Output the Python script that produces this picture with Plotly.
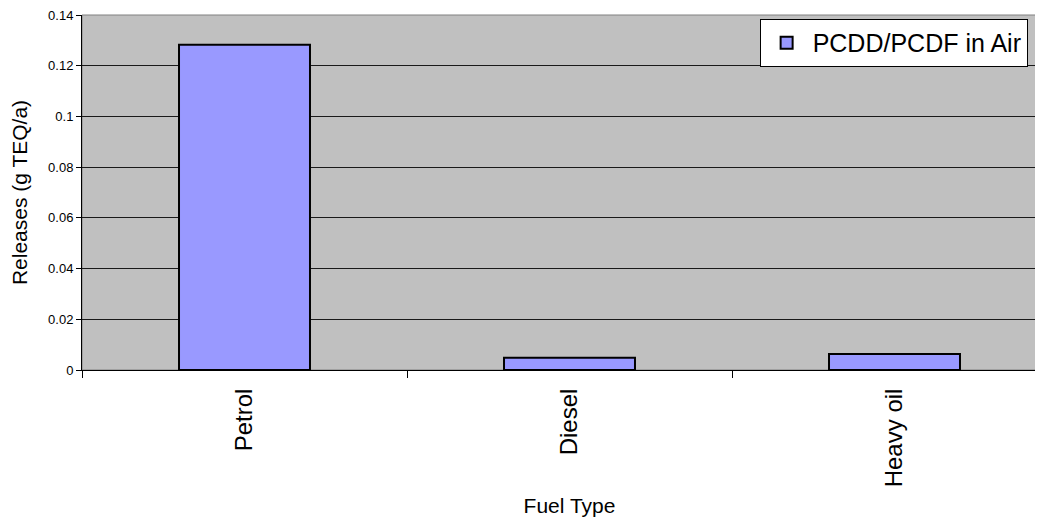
import plotly.graph_objects as go

# data
fuel_types = ["Petrol", "Diesel", "Heavy oil"]
releases_air = [0.1283, 0.0048, 0.0063]
series_name = "PCDD/PCDF in Air"

y_ticks = [0, 0.02, 0.04, 0.06, 0.08, 0.1, 0.12, 0.14]
y_tick_text = ["0", "0.02", "0.04", "0.06", "0.08", "0.1", "0.12", "0.14"]

FONT = "Liberation Sans, Arial, sans-serif"

fig = go.Figure(go.Bar(
    x=fuel_types,
    y=releases_air,
    name=series_name,
    marker=dict(color="#9999FF", line=dict(color="#000000", width=2)),
    showlegend=True,
))

fig.update_xaxes(
    type="category",
    automargin=False,
    tickson="boundaries",
    ticks="outside", ticklen=7, tickcolor="#000000", tickwidth=1,
    tickangle=-90,
    ticklabelstandoff=8,
    tickfont=dict(family=FONT, size=24, color="#000000"),
    showline=True, linecolor="#000000", linewidth=1,
    showgrid=False,
    title=dict(text="Fuel Type", font=dict(family=FONT, size=21, color="#000000"), standoff=15),
)
fig.update_yaxes(
    range=[0, 0.14001],
    automargin=False,
    tickvals=y_ticks, ticktext=y_tick_text,
    ticklabeloverflow="allow",
    ticks="outside", ticklen=5, tickcolor="#000000", tickwidth=1,
    tickfont=dict(family=FONT, size=13, color="#000000"),
    showline=True, linecolor="#000000", linewidth=1,
    showgrid=True, gridcolor="#1a1a1a", gridwidth=1,
    zeroline=False,
    title=dict(text="Releases (g TEQ/a)", font=dict(family=FONT, size=21, color="#000000"), standoff=14),
)

# gray frame on top/right of plot area
fig.add_shape(type="rect", xref="paper", yref="paper", x0=0, x1=1, y0=0, y1=1,
              line=dict(color="#808080", width=1), layer="below")

# page body adds an 8px offset, so margins are shifted to compensate;
# the plot area runs past the right edge of the window, as in the reference
fig.update_layout(
    width=1060, height=509,
    margin=dict(l=74, r=11, t=7, b=147, autoexpand=False),
    plot_bgcolor="#C0C0C0",
    paper_bgcolor="#FFFFFF",
    bargap=0.597,
    font=dict(family=FONT, color="#000000"),
    legend=dict(
        x=0.695, y=0.989, xanchor="left", yanchor="top",
        bgcolor="#FFFFFF", bordercolor="#000000", borderwidth=1,
        itemwidth=42,
        font=dict(family=FONT, size=25, color="#000000"),
    ),
)

fig.write_html("out.html")
